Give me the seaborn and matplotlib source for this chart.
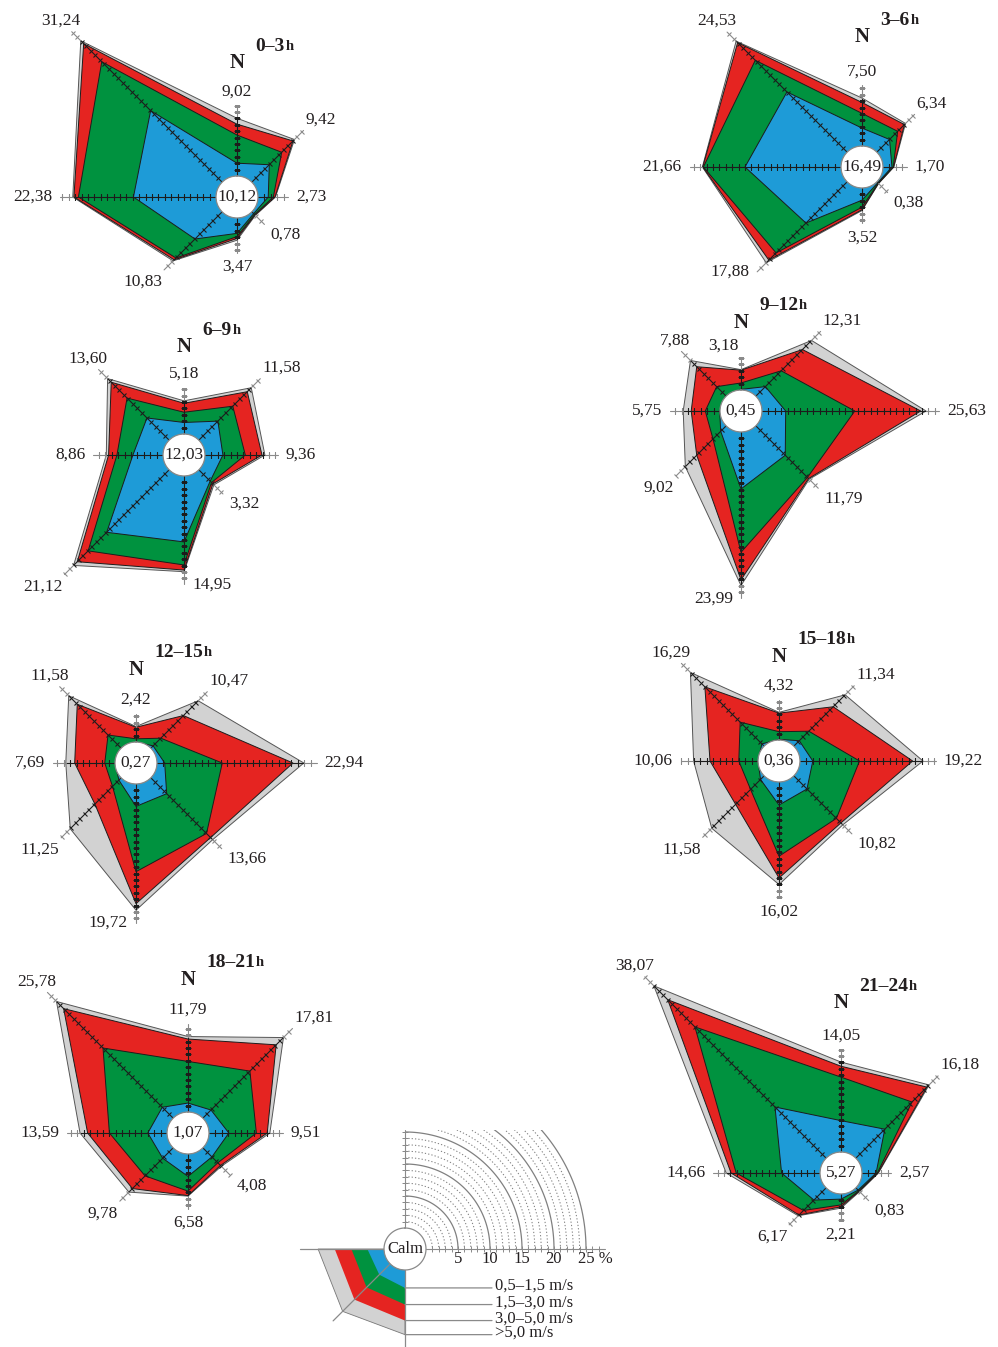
import numpy as np
import matplotlib
matplotlib.use("Agg")
import matplotlib.pyplot as plt
import seaborn as sns
from matplotlib.markers import MarkerStyle
from matplotlib.transforms import Affine2D
from matplotlib.patches import Rectangle

sns.set_theme(style="white")
plt.rcParams["font.family"] = ["Liberation Serif", "DejaVu Serif"]

# ---------------- data ----------------
directions = ["N", "NE", "E", "SE", "S", "SW", "W", "NW"]
direction_deg = [0, 45, 90, 135, 180, 225, 270, 315]
periods = ["0–3", "3–6", "6–9", "9–12", "12–15", "15–18", "18–21", "21–24"]
calm = [10.12, 16.49, 12.03, 0.45, 0.27, 0.36, 1.07, 5.27]
speed_classes = ["0,5–1,5 m/s", "1,5–3,0 m/s", "3,0–5,0 m/s", ">5,0 m/s"]

# frequency (%) per period (rows) and direction N..NW (columns)
class_05_15 = [
    [2.00, 3.85, 1.60, 0.40, 2.40, 6.00, 12.90, 15.80],
    [2.80, 2.80, 1.40, 0.20, 1.90, 9.10, 15.00, 13.30],
    [1.80, 4.20, 2.80, 2.50, 10.30, 13.80, 4.70, 4.90],
    [0.10, 2.10, 3.70, 6.50, 8.90, 1.20, 0.05, 0.10],
    [0.00, 0.50, 1.20, 3.50, 3.50, 0.50, 0.00, 0.00],
    [0.10, 1.20, 2.00, 2.90, 3.60, 0.80, 0.00, 0.50],
    [1.40, 1.80, 3.10, 2.00, 3.50, 2.30, 3.00, 2.40],
    [4.90, 6.40, 2.20, 0.50, 0.80, 2.70, 6.00, 11.30],
]
class_15_30 = [
    [4.40, 2.75, 0.80, 0.20, 0.50, 4.20, 8.60, 10.80],
    [2.30, 1.80, 0.20, 0.10, 1.10, 6.60, 6.50, 7.00],
    [1.60, 3.30, 3.50, 0.30, 3.60, 4.10, 2.50, 4.40],
    [1.00, 3.50, 10.80, 4.90, 9.90, 1.70, 2.25, 2.00],
    [0.50, 1.70, 9.00, 8.80, 10.20, 1.40, 1.60, 2.90],
    [1.20, 2.10, 7.30, 6.50, 8.00, 2.20, 3.00, 4.80],
    [6.50, 8.60, 4.30, 1.30, 2.30, 3.90, 6.00, 13.10],
    [6.80, 6.00, 0.20, 0.15, 0.90, 2.30, 7.10, 17.70],
]
class_30_50 = [
    [1.70, 2.50, 0.25, 0.10, 0.30, 0.40, 0.70, 4.00],
    [1.70, 1.50, 0.05, 0.05, 0.40, 1.60, 0.10, 3.90],
    [1.40, 3.20, 2.60, 0.30, 0.80, 2.40, 1.30, 3.50],
    [2.00, 4.70, 10.30, 0.25, 4.30, 3.60, 2.20, 4.40],
    [1.80, 5.00, 11.05, 0.90, 5.00, 3.90, 4.70, 6.80],
    [2.90, 5.40, 8.30, 1.00, 3.40, 3.30, 4.50, 7.80],
    [3.50, 5.80, 1.70, 0.60, 0.70, 2.80, 3.40, 8.70],
    [1.70, 3.30, 0.10, 0.10, 0.30, 1.00, 0.80, 6.00],
]
class_gt50 = [
    [0.92, 0.32, 0.08, 0.08, 0.27, 0.23, 0.18, 0.64],
    [0.70, 0.24, 0.05, 0.03, 0.12, 0.58, 0.06, 0.33],
    [0.38, 0.88, 0.46, 0.22, 0.25, 0.82, 0.36, 0.80],
    [0.08, 2.01, 0.83, 0.14, 0.89, 2.52, 1.25, 1.38],
    [0.12, 3.27, 1.69, 0.46, 1.02, 5.45, 1.39, 1.88],
    [0.12, 2.64, 1.62, 0.42, 1.02, 5.28, 2.56, 3.19],
    [0.39, 1.61, 0.41, 0.18, 0.08, 0.78, 1.19, 1.58],
    [0.65, 0.48, 0.07, 0.08, 0.21, 0.17, 0.76, 3.07],
]

# legend sample rose (cumulative %, per class) on W, SW, S
legend_W = [2.6, 5.1, 7.7, 10.3]
legend_SW = [2.4, 5.2, 7.9, 10.5]
legend_S = [2.8, 5.4, 7.9, 10.1]
legend_scale_ticks = [5, 10, 15, 20, 25]

# ---------------- layout / style ----------------
W, H = 998, 1347
PX = 6.4      # pixels per percent
RC = 21       # calm circle radius in px
RMAX = 42
HALF = PX * RMAX + RC
rose_centers = [(237, 197), (862, 167), (184, 455), (741, 411),
                (136, 763), (779, 761), (188, 1133), (841, 1173)]
n_offsets = [42, 48, 41, 34, 44, 43, 44, 46]
colors = sns.color_palette(["#1E9BD7", "#00923F", "#E52421", "#D2D2D2"])
EDGE = "#1c1c1c"
TXT = "#231F20"
GRAYLINE = "#8a8a8a"

label_style = {
    "N": ("center", "bottom", 0, 6),
    "NE": ("left", "bottom", 2, 3),
    "E": ("left", "center", 8, 0),
    "SE": ("left", "top", 6, -2),
    "S": ("center", "top", 0, -6),
    "SW": ("right", "top", -2, -4),
    "W": ("right", "center", -8, 0),
    "NW": ("right", "bottom", 9, 3),
}
label_override = {
    (1, "SW"): ("right", "center", -8, 0),
    (2, "S"): ("left", "center", 8, 0),
    (3, "S"): ("right", "center", -8, 0),
    (4, "S"): ("right", "center", -8, 0),
    (3, "N"): ("right", "bottom", -2, 3),
}

fig = plt.figure(figsize=(W / 100, H / 100), dpi=100)
fig.patch.set_facecolor("white")


def fmt(v):
    return f"{v:.2f}".replace(".", ",")


def polar_axes(cx, cy):
    ax = fig.add_axes([(cx - HALF) / W, (H - cy - HALF) / H, 2 * HALF / W, 2 * HALF / H],
                      projection="polar")
    ax.set_theta_zero_location("N")
    ax.set_theta_direction(-1)
    ax.set_rorigin(-RC / PX)
    ax.set_ylim(0, RMAX)
    ax.set_axis_off()
    return ax


def tick_marker(deg):
    return MarkerStyle("_", transform=Affine2D().rotate_deg(-deg))


theta = np.deg2rad(direction_deg)
circle_t = np.linspace(0, 2 * np.pi, 241)

for i, (cx, cy) in enumerate(rose_centers):
    ax = polar_axes(cx, cy)
    layers = np.array([class_05_15[i], class_15_30[i], class_30_50[i], class_gt50[i]])
    cum = np.cumsum(layers, axis=0)
    totals = cum[-1]
    # stacked polygons, outer first
    for k in range(3, -1, -1):
        ax.fill(theta, cum[k], facecolor=colors[k], edgecolor=EDGE if k < 3 else "#555555",
                lw=0.7, zorder=1 + (3 - k))
    # direction axes with 1 % ticks
    for j, deg in enumerate(direction_deg):
        th = theta[j]
        tot = totals[j]
        end = tot + 2.0
        ax.plot([th, th], [0, tot], color=EDGE, lw=0.8, zorder=6)
        ax.plot([th, th], [tot, end], color=GRAYLINE, lw=0.8, zorder=6)
        ticks = np.arange(1, int(np.floor(end)) + 1)
        m = tick_marker(deg)
        tin = ticks[ticks <= tot]
        tout = ticks[ticks > tot]
        ax.plot(np.full(len(tin), th), tin, ls="none", marker=m, ms=4.5, mew=0.8,
                color=EDGE, zorder=7)
        ax.plot(np.full(len(tout), th), tout, ls="none", marker=m, ms=4.5, mew=0.8,
                color=GRAYLINE, zorder=7)
        ha, va, dx, dy = label_override.get((i, directions[j]), label_style[directions[j]])
        ax.annotate(fmt(tot), xy=(th, end), xytext=(dx, dy), textcoords="offset pixels",
                    ha=ha, va=va, fontsize=12.5, color=TXT, zorder=10,
                    annotation_clip=False)
    # calm circle
    ax.plot(circle_t, np.zeros_like(circle_t), color=GRAYLINE, lw=0.9, clip_on=False, zorder=8)
    ax.text(0, -RC / PX, fmt(calm[i]), ha="center", va="center", fontsize=12.5,
            color=TXT, zorder=10)
    # N letter and title
    endN = totals[0] + 2.0
    ax.annotate("N", xy=(0, endN), xytext=(0, n_offsets[i]), textcoords="offset pixels",
                ha="center", va="center", fontsize=15, fontweight="bold", color=TXT,
                annotation_clip=False)
    t = ax.annotate(periods[i], xy=(0, endN), xytext=(18, n_offsets[i] + 17),
                    textcoords="offset pixels", ha="left", va="center", fontsize=14,
                    fontweight="bold", color=TXT, annotation_clip=False)
    ax.annotate("h", xy=(1, 1), xycoords=t, xytext=(1, -2), textcoords="offset pixels",
                ha="left", va="top", fontsize=10.5, fontweight="bold", color=TXT,
                annotation_clip=False)

# ---------------- legend ----------------
lcx, lcy = 405, 1249
lax = polar_axes(lcx, lcy)
clip_rect = Rectangle((lcx / W, (H - lcy) / H), 260 / W, 119 / H, transform=fig.transFigure)
arc_t = np.linspace(0, np.pi / 2, 120)
for r in range(1, 26):
    if r % 5 == 0:
        ln, = lax.plot(arc_t, np.full_like(arc_t, r), color="#808080", lw=0.9)
    else:
        ln, = lax.plot(arc_t, np.full_like(arc_t, r), color="#808080", lw=0.75,
                       ls=(0, (1.2, 2.0)))
    ln.set_clip_path(clip_rect)

top_r = (119 - RC) / PX
lax.plot([0, 0], [0, top_r], color=GRAYLINE, lw=0.8)
lax.plot(np.zeros(15), np.arange(1, 16), ls="none", marker=tick_marker(0), ms=4,
         mew=0.7, color=GRAYLINE)
e = np.deg2rad(90)
lax.plot([e, e], [0, 28], color=GRAYLINE, lw=0.8)
lax.plot(np.full(27, e), np.arange(1, 28), ls="none", marker=tick_marker(90), ms=4,
         mew=0.7, color=GRAYLINE)
for v in legend_scale_ticks[:-1]:
    lax.annotate(str(v), xy=(e, v), xytext=(0, -2), textcoords="offset pixels",
                 ha="center", va="top", fontsize=12, color=TXT, annotation_clip=False)
lax.annotate(f"{legend_scale_ticks[-1]} %", xy=(e, legend_scale_ticks[-1]), xytext=(-8, -2),
             textcoords="offset pixels", ha="left", va="top", fontsize=12, color=TXT,
             annotation_clip=False)

# sample quadrant W-SW-S
qt = np.deg2rad([270, 270, 225, 180, 180])
for k in range(3, -1, -1):
    lax.fill(qt, [0, legend_W[k], legend_SW[k], legend_S[k], 0], facecolor=colors[k],
             edgecolor="#777777" if k == 3 else "none", lw=0.6, zorder=1 + (3 - k))
lax.plot(np.deg2rad([270, 270]), [0, 13.1], color=GRAYLINE, lw=0.9, zorder=6)
lax.plot(np.deg2rad([225, 225]), [0, 12.6], color=GRAYLINE, lw=0.9, zorder=6)
lax.plot(np.deg2rad([180, 180]), [0, 16], color=GRAYLINE, lw=0.9, zorder=6)
lax.plot(circle_t, np.zeros_like(circle_t), color=GRAYLINE, lw=0.9, clip_on=False, zorder=8)
lax.text(0, -RC / PX, "Calm", ha="center", va="center", fontsize=12, color=TXT, zorder=10)

for k, lab in enumerate(speed_classes):
    pt = (np.pi, legend_S[k])
    lax.annotate("", xy=pt, xytext=(87, 0), textcoords="offset pixels",
                 arrowprops=dict(arrowstyle="-", color=GRAYLINE, lw=0.9,
                                 shrinkA=0, shrinkB=0), annotation_clip=False)
    lax.annotate(lab, xy=pt, xytext=(90, -2), textcoords="offset pixels",
                 ha="left", va="baseline", fontsize=12, color=TXT, annotation_clip=False)

fig.savefig("out.png", dpi=100, facecolor="white")
